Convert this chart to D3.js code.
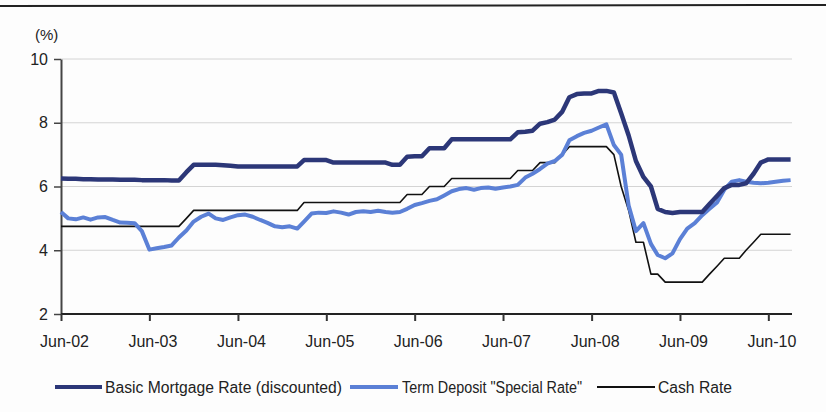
<!DOCTYPE html>
<html>
<head>
<meta charset="utf-8">
<script src="https://cdn.jsdelivr.net/npm/d3@7"></script>
<style>
  body { margin: 0; background: #fff; }
  text { font-family: "Liberation Sans", Arial, sans-serif; fill: #222; }
</style>
</head>
<body>
<div id="chart"></div>
<script>
var width = 826;
var height = 412;

// monthly series, Jun-02 .. Sep-10
var mortgage = [6.25,6.24,6.24,6.23,6.23,6.22,6.22,6.22,6.21,6.21,6.21,6.2,6.2,6.2,6.2,6.19,6.19,
  6.45,6.68,6.68,6.68,6.68,6.67,6.65,
  6.63,6.63,6.63,6.63,6.63,6.63,6.63,6.63,6.63,
  6.83,6.83,6.83,6.83,
  6.75,6.75,6.75,6.75,6.75,6.75,6.75,6.75,
  6.68,6.68,
  6.93,6.95,6.95,
  7.2,7.2,7.2,
  7.48,7.48,7.48,7.48,7.48,7.48,7.48,7.48,7.48,
  7.7,7.72,7.75,
  7.97,8.02,8.1,8.35,8.8,8.9,8.92,8.92,9.0,9.0,
  8.95,8.3,7.6,6.8,6.3,6.0,5.3,5.2,5.17,5.2,5.2,5.2,5.2,
  5.45,5.7,5.95,6.05,6.05,6.1,6.4,6.75,6.85,6.85,6.85,6.85];

var termDeposit = [5.2,5.0,4.97,5.03,4.96,5.03,5.04,4.95,4.87,4.86,4.85,4.6,4.02,4.06,4.1,4.15,4.4,4.62,
  4.9,5.05,5.15,5.0,4.95,5.03,5.1,5.12,5.05,4.95,4.86,4.75,4.72,4.75,4.68,4.9,5.15,5.18,5.17,5.22,5.18,5.12,5.2,5.22,5.2,5.24,5.2,5.18,5.2,5.3,
  5.42,5.48,5.55,5.6,5.72,5.85,5.92,5.95,5.9,5.95,5.97,5.93,5.97,6.0,6.05,6.28,6.4,6.55,6.72,6.8,7.0,7.45,7.58,7.68,7.75,7.85,7.95,
  7.3,7.0,5.4,4.6,4.85,4.2,3.85,3.75,3.9,4.35,4.68,4.85,5.1,5.3,5.5,5.9,6.15,6.2,6.15,6.12,6.1,6.12,6.15,6.18,6.2];

var cashRate = [4.75,4.75,4.75,4.75,4.75,4.75,4.75,4.75,4.75,4.75,4.75,4.75,4.75,4.75,4.75,4.75,4.75,
  5.0,
  5.25,5.25,5.25,5.25,5.25,5.25,5.25,5.25,5.25,5.25,5.25,5.25,5.25,5.25,5.25,
  5.5,5.5,5.5,5.5,5.5,5.5,5.5,5.5,5.5,5.5,5.5,5.5,5.5,5.5,
  5.75,5.75,5.75,
  6.0,6.0,6.0,
  6.25,6.25,6.25,6.25,6.25,6.25,6.25,6.25,6.25,
  6.5,6.5,6.5,
  6.75,6.75,6.75,
  7.0,
  7.25,7.25,7.25,7.25,7.25,7.25,
  7.0,6.0,5.25,4.25,4.25,3.25,3.25,
  3.0,3.0,3.0,3.0,3.0,3.0,
  3.25,3.5,3.75,3.75,3.75,4.0,4.25,
  4.5,4.5,4.5,4.5,4.5];

var xTickLabels = ["Jun-02","Jun-03","Jun-04","Jun-05","Jun-06","Jun-07","Jun-08","Jun-09","Jun-10"];
var yTicks = [2, 4, 6, 8, 10];

var seriesNames = ["Basic Mortgage Rate (discounted)", "Term Deposit \"Special Rate\"", "Cash Rate"];
var seriesColors = ["#2c3778", "#5b80d6", "#111111"];
var seriesWidths = [4.5, 4, 1.6];

var startDate = new Date(2002, 5, 1);
var months = mortgage.map(function(d, i) { return d3.timeMonth.offset(startDate, i); });

var svg = d3.select("#chart")
  .append("svg")
  .attr("width", width)
  .attr("height", height);

svg.append("rect")
  .attr("width", width)
  .attr("height", height)
  .attr("fill", "#fdfdfd");

// page rule from the scan
svg.append("line")
  .attr("x1", 0).attr("x2", width)
  .attr("y1", 6).attr("y2", 5)
  .attr("stroke", "#222")
  .attr("stroke-width", 2);

var xScale = d3.scaleTime()
  .domain([startDate, d3.timeMonth.offset(startDate, 99)])
  .range([61, 790.6]);

var yScale = d3.scaleLinear()
  .domain([2, 10])
  .range([314, 59]);

// gridlines
svg.append("g")
  .selectAll("line")
  .data(yTicks.filter(function(d) { return d > 2; }))
  .enter()
  .append("line")
  .attr("x1", 61)
  .attr("x2", 792)
  .attr("y1", d => yScale(d))
  .attr("y2", d => yScale(d))
  .attr("stroke", "#d4d4d4")
  .attr("stroke-width", 1);

// y axis
var leftAxis = d3.axisLeft(yScale)
  .tickValues(yTicks)
  .tickSize(7)
  .tickSizeOuter(0)
  .tickPadding(6);

var yAxis = svg.append("g")
  .attr("transform", "translate(61,0)")
  .call(leftAxis);
yAxis.select(".domain").attr("stroke", "#444").attr("stroke-width", 2);
yAxis.selectAll(".tick line").attr("stroke", "#444").attr("stroke-width", 1.5);
yAxis.selectAll("text").style("font-size", "16px").attr("fill", "#222");

// x axis
var xTickDates = xTickLabels.map(function(d, i) { return d3.timeMonth.offset(startDate, i * 12); });
var bottomAxis = d3.axisBottom(xScale)
  .tickValues(xTickDates)
  .tickFormat(function(d, i) { return xTickLabels[i]; })
  .tickSize(7)
  .tickSizeOuter(0)
  .tickPadding(15);

var xAxis = svg.append("g")
  .attr("transform", "translate(0,314)")
  .call(bottomAxis);
xAxis.select(".domain").attr("stroke", "#222").attr("stroke-width", 2).attr("d", "M61,0H792");
xAxis.selectAll(".tick line").attr("stroke", "#333").attr("stroke-width", 2);
xAxis.selectAll("text").style("font-size", "16px").attr("fill", "#222").attr("dx", 3);

svg.append("text")
  .attr("x", 35)
  .attr("y", 40)
  .style("font-size", "15px")
  .text("(%)");

// lines
var allSeries = [mortgage, termDeposit, cashRate];
var line = d3.line()
  .x(function(d, i) { return xScale(months[i]); })
  .y(function(d) { return yScale(d); });

[2, 1, 0].forEach(function(k) {
  svg.append("path")
    .datum(allSeries[k])
    .attr("d", line)
    .attr("fill", "none")
    .attr("stroke", seriesColors[k])
    .attr("stroke-width", seriesWidths[k])
    .attr("stroke-linejoin", "round");
});

// legend
var legendItems = [
  { x1: 55, x2: 102, tx: 105, tw: 237 },
  { x1: 350, x2: 398, tx: 402, tw: 180 },
  { x1: 597, x2: 655, tx: 658, tw: 74 }
];
var legend = svg.append("g");
legendItems.forEach(function(item, k) {
  legend.append("line")
    .attr("x1", item.x1).attr("x2", item.x2)
    .attr("y1", 387).attr("y2", 387)
    .attr("stroke", seriesColors[k])
    .attr("stroke-width", k === 2 ? 2 : 4);
  legend.append("text")
    .attr("x", item.tx)
    .attr("y", 393)
    .attr("textLength", item.tw)
    .attr("lengthAdjust", "spacingAndGlyphs")
    .style("font-size", "16px")
    .text(seriesNames[k]);
});
</script>
</body>
</html>
